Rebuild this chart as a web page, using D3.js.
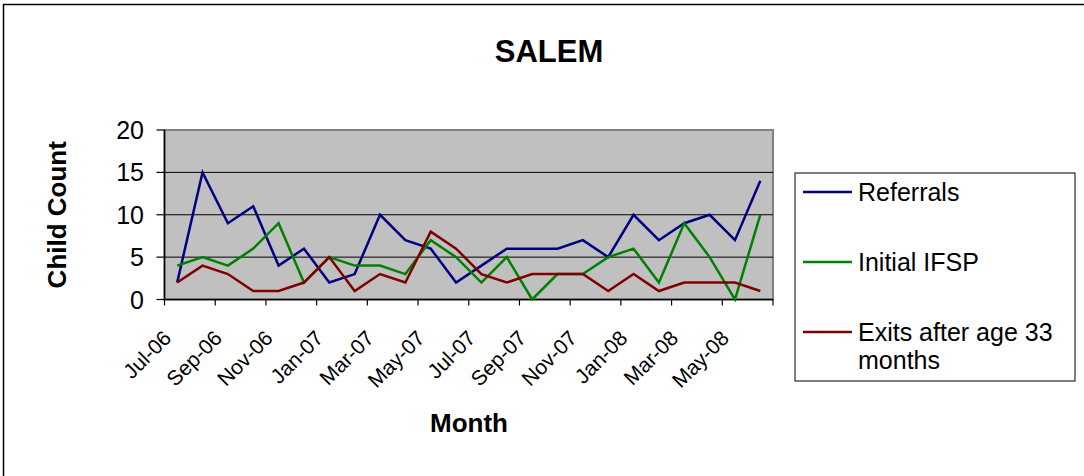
<!DOCTYPE html>
<html>
<head>
<meta charset="utf-8">
<script src="https://cdn.jsdelivr.net/npm/d3@7"></script>
<style>
  body { margin: 0; background: #fff; }
  text { font-family: "Liberation Sans", Arial, sans-serif; fill: #000; }
</style>
</head>
<body>
<script>
// Chart data
const months = ["Jul-06","Aug-06","Sep-06","Oct-06","Nov-06","Dec-06",
                "Jan-07","Feb-07","Mar-07","Apr-07","May-07","Jun-07",
                "Jul-07","Aug-07","Sep-07","Oct-07","Nov-07","Dec-07",
                "Jan-08","Feb-08","Mar-08","Apr-08","May-08","Jun-08"];
const referrals = [2,15,9,11,4,6,2,3,10,7,6,2, 4,6,6,6,7,5,10,7,9,10,7,14];
const initialIFSP = [4,5,4,6,9,2,5,4,4,3,7,5, 2,5,0,3,3,5,6,2,9,5,0,10];
const exits = [2,4,3,1,1,2,5,1,3,2,8,6, 3,2,3,3,3,1,3,1,2,2,2,1];
const yTicks = [0,5,10,15,20];

const seriesList = [
    {name: ["Referrals"], values: referrals, color: "#000080"},
    {name: ["Initial IFSP"], values: initialIFSP, color: "#008000"},
    {name: ["Exits after age 33", "months"], values: exits, color: "#800000"}
];

var W = 1084, H = 476;
var plot = {left: 164.5, right: 773, top: 130, bottom: 299.5};

var svg = d3.select("body").append("svg")
    .attr("width", W)
    .attr("height", H);

// outer chart border
svg.append("rect")
    .attr("x", 3.5).attr("y", 4.5)
    .attr("width", 1100).attr("height", 520)
    .attr("fill", "none")
    .attr("stroke", "#000")
    .attr("stroke-width", 1.5);

// scales
var x = d3.scaleBand().domain(months).range([plot.left, plot.right]);
var y = d3.scaleLinear().domain([0, 20]).range([plot.bottom, plot.top]);

// plot background
svg.append("rect")
    .attr("x", plot.left).attr("y", plot.top)
    .attr("width", plot.right - plot.left)
    .attr("height", plot.bottom - plot.top)
    .attr("fill", "#c0c0c0")
    .attr("stroke", "#808080")
    .attr("stroke-width", 2);

// gridlines
svg.append("g").selectAll("line")
    .data(yTicks.slice(1, -1))
    .enter().append("line")
    .attr("x1", plot.left).attr("x2", plot.right)
    .attr("y1", d => y(d)).attr("y2", d => y(d))
    .attr("stroke", "#000")
    .attr("stroke-width", 1);

// y axis
var yAxis = svg.append("g");
yAxis.append("line")
    .attr("x1", plot.left).attr("x2", plot.left)
    .attr("y1", plot.top).attr("y2", plot.bottom)
    .attr("stroke", "#000").attr("stroke-width", 1.5);
yAxis.selectAll(".tick").data(yTicks).enter().append("line")
    .attr("x1", plot.left - 8).attr("x2", plot.left)
    .attr("y1", d => y(d)).attr("y2", d => y(d))
    .attr("stroke", "#000").attr("stroke-width", 1.2);
yAxis.selectAll("text").data(yTicks).enter().append("text")
    .attr("x", 144)
    .attr("y", d => y(d))
    .attr("dy", "0.36em")
    .attr("text-anchor", "end")
    .attr("font-size", "25px")
    .text(d => d);

// x axis
var xAxis = svg.append("g");
xAxis.append("line")
    .attr("x1", plot.left).attr("x2", plot.right)
    .attr("y1", plot.bottom).attr("y2", plot.bottom)
    .attr("stroke", "#000").attr("stroke-width", 1.5);
var tickMonths = months.filter((m, i) => i % 2 == 0);
var tickPos = tickMonths.map(m => x(m)).concat([plot.right]);
xAxis.selectAll(".tick").data(tickPos).enter().append("line")
    .attr("x1", d => d).attr("x2", d => d)
    .attr("y1", plot.bottom).attr("y2", plot.bottom + 6)
    .attr("stroke", "#000").attr("stroke-width", 1.2);
xAxis.selectAll("text").data(tickMonths).enter().append("text")
    .attr("text-anchor", "end")
    .attr("font-size", "21px")
    .attr("transform", d => `translate(${x(d) + 8}, ${plot.bottom + 40}) rotate(-45)`)
    .text(d => d);

// lines
var line = d3.line()
    .x((d, i) => x(months[i]) + x.bandwidth() / 2)
    .y(d => y(d));

seriesList.forEach(s => {
    svg.append("path")
        .datum(s.values)
        .attr("fill", "none")
        .attr("stroke", s.color)
        .attr("stroke-width", 2.5)
        .attr("stroke-linejoin", "miter")
        .attr("d", line);
});

// title
svg.append("text")
    .attr("x", 549).attr("y", 62)
    .attr("text-anchor", "middle")
    .attr("font-size", "31px")
    .attr("font-weight", "bold")
    .text("SALEM");

// axis titles
svg.append("text")
    .attr("transform", `translate(66, ${(plot.top + plot.bottom) / 2}) rotate(-90)`)
    .attr("text-anchor", "middle")
    .attr("font-size", "26px")
    .attr("font-weight", "bold")
    .text("Child Count");

svg.append("text")
    .attr("x", 469).attr("y", 432)
    .attr("text-anchor", "middle")
    .attr("font-size", "26px")
    .attr("font-weight", "bold")
    .text("Month");

// legend
var legend = svg.append("g");
legend.append("rect")
    .attr("x", 795).attr("y", 173)
    .attr("width", 280).attr("height", 208)
    .attr("fill", "#fff")
    .attr("stroke", "#000")
    .attr("stroke-width", 1);

var legendY = [192, 262, 332];
seriesList.forEach((s, i) => {
    legend.append("line")
        .attr("x1", 803).attr("x2", 852)
        .attr("y1", legendY[i]).attr("y2", legendY[i])
        .attr("stroke", s.color)
        .attr("stroke-width", 2.5);
    var t = legend.append("text")
        .attr("x", 858).attr("y", legendY[i])
        .attr("dy", "0.36em")
        .attr("font-size", "25px");
    s.name.forEach((n, j) => {
        t.append("tspan")
            .attr("x", 858)
            .attr("dy", j == 0 ? "0.36em" : "28px")
            .text(n);
    });
});
</script>
</body>
</html>
